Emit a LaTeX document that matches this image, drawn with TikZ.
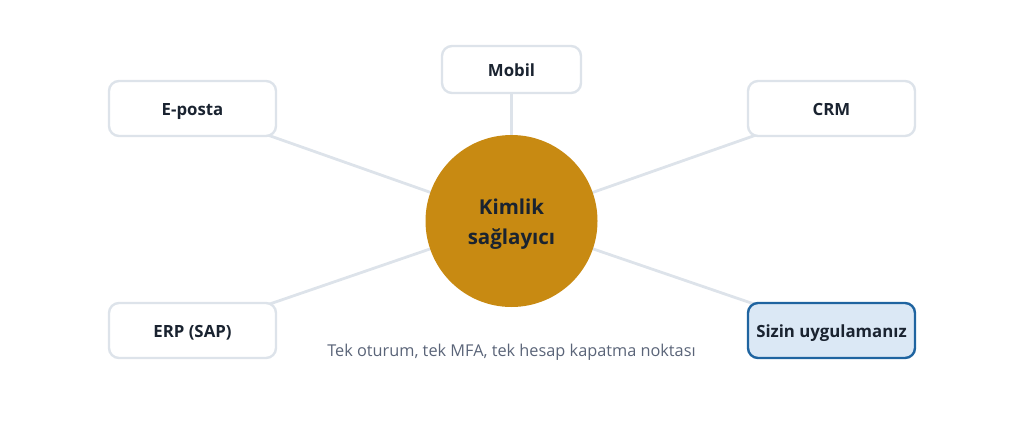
\documentclass[tikz,border=0pt]{standalone}
\usepackage{fontspec}
\setmainfont{Open Sans}
\begin{document}
\begin{tikzpicture}[x=1pt,y=-1pt,
  conn/.style={draw=linegray,line width=2.8pt},
  box/.style={draw=linegray,line width=2.4pt,fill=white,rounded corners=10pt,minimum width=167pt,minimum height=55pt,font=\fontsize{16.8}{20}\selectfont\bfseries,text=textdark,text height=14pt,text depth=0pt},
  hub/.style={circle,fill=hubgold,minimum size=172pt},
  hubtext/.style={font=\fontsize{20.5}{30}\selectfont\bfseries,text=textdark,align=center},
  captext/.style={font=\fontsize{16.3}{19}\selectfont,text=capgray}]
\definecolor{linegray}{HTML}{DDE3EA}
\definecolor{hubgold}{HTML}{C88A12}
\definecolor{textdark}{HTML}{1A2330}
\definecolor{capgray}{HTML}{5A6478}
\definecolor{selfill}{HTML}{DBE8F5}
\definecolor{selborder}{HTML}{1F64A0}
\useasboundingbox (0,0) rectangle (1024,441);
\coordinate (c) at (511.5,221);
\coordinate (pm) at (511.5,69.5);
\coordinate (pe) at (192.5,108.5);
\coordinate (pc) at (831.5,108.5);
\coordinate (pr) at (192.5,330.5);
\coordinate (ps) at (831.5,330.5);
\draw[conn] (c) -- (pm);
\draw[conn] (c) -- (pe);
\draw[conn] (c) -- (pc);
\draw[conn] (c) -- (pr);
\draw[conn] (c) -- (ps);
\node[hub] (h) at (c) {};
\node[hubtext] (ht) at ([yshift=-3.5pt]c) {Kimlik\\sağlayıcı};
\node[box,minimum width=139pt,minimum height=47pt] (m) at (pm) {Mobil};
\node[box] (e) at (pe) {E-posta};
\node[box] (crm) at (pc) {CRM};
\node[box] (erp) at (pr) {ERP (SAP)};
\node[box,draw=selborder,fill=selfill] (s) at (ps) {Sizin uygulamanız};
\node[captext] (t) at (511.5,352) {Tek oturum, tek MFA, tek hesap kapatma noktası};
\end{tikzpicture}
\end{document}
